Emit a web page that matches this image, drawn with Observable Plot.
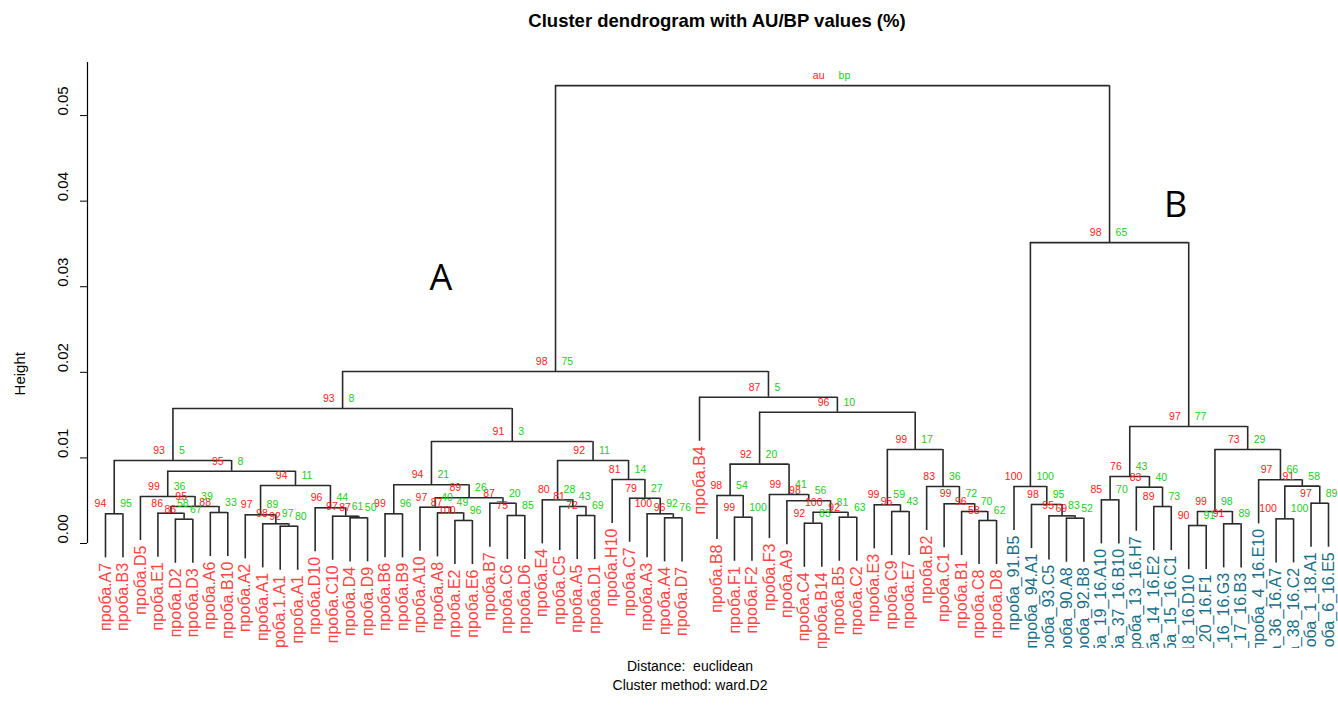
<!DOCTYPE html>
<html><head><meta charset="utf-8">
<script src="https://cdn.jsdelivr.net/npm/d3@7"></script>
<script src="https://cdn.jsdelivr.net/npm/@observablehq/plot@0.6"></script>
<style>
body{margin:0;background:#fff;font-family:"Liberation Sans",Arial,sans-serif;}
#wrap{position:relative;width:1338px;height:722px;overflow:hidden;background:#fff;}
#title{position:absolute;top:10px;left:417px;width:600px;text-align:center;font-weight:bold;font-size:18.5px;color:#000;}
#chart{position:absolute;top:40px;left:0;}
#chart svg{overflow:hidden;}
.cap{position:absolute;left:490px;width:400px;text-align:center;font-size:14px;color:#000;}
</style></head><body>
<div id="wrap">
<div id="title">Cluster dendrogram with AU/BP values (%)</div>
<div id="chart"></div>
<div class="cap" style="top:658px">Distance:&nbsp; euclidean</div>
<div class="cap" style="top:677px">Cluster method: ward.D2</div>
</div>
<script>
// leaves in plotted order
const leafLabels = [
"проба.A7","проба.B3","проба.D5","проба.E1","проба.D2","проба.D3","проба.A6","проба.B10","проба.A2","проба.A1",
"проба.1.A1","проба.A1","проба.D10","проба.C10","проба.D4","проба.D9","проба.B6","проба.B9","проба.A10","проба.A8",
"проба.E2","проба.E6","проба.B7","проба.C6","проба.D6","проба.E4","проба.C5","проба.A5","проба.D1","проба.H10",
"проба.C7","проба.A3","проба.A4","проба.D7","проба.B4","проба.B8","проба.F1","проба.F2","проба.F3","проба.A9",
"проба.C4","проба.B14","проба.B5","проба.C2","проба.E3","проба.C9","проба.E7","проба.B2","проба.C1","проба.B1",
"проба.C8","проба.D8","проба_91.B5","проба_94.A1","проба_93.C5","проба_90.A8","проба_92.B8","проба_19_16.A10","проба_37_16.B10","проба_13_16.H7",
"проба_14_16.E2","проба_15_16.C1","проба_18_16.D10","проба_20_16.F1","проба_16_16.G3","проба_17_16.B3","проба_4_16.E10","проба_36_16.A7","проба_38_16.C2","проба_1_18.A1",
"проба_6_16.E5"];
const leafGroup = leafLabels.map(d => d.startsWith("проба_") ? "B" : "A");

// hclust-style merge table: negative = leaf (1-based), positive = earlier merge row (1-based)
const mergeLeft  = [-1,-5,-4,-7,3,-3,-11,-10,-9,-15,-14,-13,9,6,1,-17,-21,-20,-19,-24,-23,19,16,-28,-27,-26,-33,-32,-31,-30,26,23,15,-37,-36,-41,-43,36,-40,-39,35,-46,-45,-51,-50,-49,-48,43,41,-35,33,-56,-55,-54,-53,-58,-61,-60,56,-63,-65,60,-68,-70,63,-67,62,59,55,51];
const mergeRight = [-2,-6,2,-8,4,5,-12,7,8,-16,10,11,12,13,14,-18,-22,17,18,-25,20,21,22,-29,24,25,-34,27,28,29,30,31,32,-38,34,-42,-44,37,38,39,40,-47,42,-52,44,45,46,47,48,49,50,-57,52,53,54,-59,-62,57,58,-64,-66,61,-69,-71,64,65,66,67,68,69];
const mergeHeight = [0.00347,0.00284,0.00354,0.00362,0.00432,0.00549,0.00202,0.0023,0.00335,0.003,
0.00319,0.00417,0.00678,0.00845,0.0097,0.00347,0.00269,0.00358,0.00424,0.00327,
0.00471,0.00534,0.00686,0.00327,0.00432,0.0051,0.003,0.00347,0.00529,0.00748,
0.0097,0.01192,0.01577,0.00307,0.00561,0.00237,0.00307,0.00366,0.005,0.00572,
0.00927,0.00374,0.00452,0.00269,0.00374,0.00464,0.00666,0.01098,0.01534,0.01709,
0.0201,0.00296,0.00323,0.00456,0.00666,0.0051,0.00432,0.00658,0.00783,0.0021,
0.0023,0.00374,0.00288,0.00471,0.0067,0.00744,0.01098,0.01367,0.03516,0.0535];
const auValues = [94,86,86,88,95,99,92,98,97,87,97,96,94,95,93,99,100,87,97,75,87,89,94,72,81,80,96,100,79,81,92,91,93,99,98,92,92,100,98,99,92,95,99,58,96,99,83,99,96,87,98,69,95,98,100,85,89,83,76,90,91,99,100,97,91,97,73,97,98,"au"];
const bpValues = [95,67,58,33,39,36,80,97,89,50,61,44,11,8,5,96,96,49,40,85,20,26,21,69,43,28,76,92,27,14,11,3,8,100,54,83,63,81,56,41,20,43,59,62,70,72,36,17,10,5,75,52,83,95,100,70,73,40,43,91,89,98,100,89,58,66,29,77,65,"bp"];

const yTicks = [0, 0.01, 0.02, 0.03, 0.04, 0.05];
const yTop = 0.0562;
const axisTitle = [{text: "Height", h: 0.0173}];
const annotations = [{text: "A", x: 19.2, h: 0.031}, {text: "B", x: 61.25, h: 0.0395}];

// layout of the tree
const hang = 0.1 * (d3.max(mergeHeight) - d3.min(mergeHeight));
const nodeX = [];
const cx = r => r < 0 ? (-r - 1) : nodeX[r - 1];
mergeLeft.forEach((l, k) => { nodeX[k] = (cx(l) + cx(mergeRight[k])) / 2; });
const hsegs = [], vsegs = [], nodes = [];
const leafEnd = new Array(leafLabels.length);
mergeLeft.forEach((l, k) => {
  const r = mergeRight[k], h = mergeHeight[k];
  hsegs.push({x1: cx(l), x2: cx(r), h});
  for (const c of [l, r]) {
    let ch;
    if (c < 0) { ch = h - hang; leafEnd[-c - 1] = ch; } else ch = mergeHeight[c - 1];
    vsegs.push({x: cx(c), y1: h, y2: ch});
  }
  nodes.push({x: nodeX[k], h, au: String(auValues[k]), bp: String(bpValues[k])});
});
const leaves = leafLabels.map((t, i) => ({i, t, g: leafGroup[i], y: leafEnd[i]}));

const lineColor = "#2a2a2a";
const chart = Plot.plot({
  width: 1338, height: 608,
  marginLeft: 87, marginRight: 10, marginTop: 22, marginBottom: 105,
  style: {fontFamily: "'Liberation Sans', Arial, sans-serif", background: "#fff", color: "#000"},
  x: {domain: [-1.03, 70], axis: null},
  y: {domain: [0, yTop], axis: null},
  color: {domain: ["A", "B"], range: ["#ff4545", "#1a6f88"]},
  marks: [
    Plot.axisY({ticks: yTicks, tickSize: 7, tickFormat: () => "", label: null, stroke: "#000"}),
    Plot.ruleX([-1.03], {y1: 0, y2: yTop, stroke: "#000", strokeWidth: 1.2}),
    Plot.text(yTicks, {y: d => d, text: d => d3.format(".2f")(d), frameAnchor: "left", dx: -24, rotate: -90, fontSize: 15, fill: "#000"}),
    Plot.text(axisTitle, {y: "h", text: "text", frameAnchor: "left", dx: -67, rotate: -90, fontSize: 15, fill: "#000"}),
    Plot.ruleY(hsegs, {x1: "x1", x2: "x2", y: "h", stroke: lineColor, strokeWidth: 1.6}),
    Plot.ruleX(vsegs, {x: "x", y1: "y1", y2: "y2", stroke: lineColor, strokeWidth: 1.6}),
    Plot.text(leaves, {x: "i", y: "y", text: "t", fill: "g", rotate: -90, textAnchor: "end", dy: 5, fontSize: 16}),
    Plot.text(nodes, {x: "x", y: "h", text: "au", fill: "#ff1a1a", textAnchor: "end", dx: -8, dy: -10, fontSize: 10.5}),
    Plot.text(nodes, {x: "x", y: "h", text: "bp", fill: "#1ccc1c", textAnchor: "start", dx: 6, dy: -10, fontSize: 10.5}),
    Plot.text(annotations, {x: "x", y: "h", text: "text", fontSize: 36, fill: "#000", fontFamily: "'Open Sans', 'Liberation Sans', sans-serif"})
  ]
});
document.getElementById("chart").appendChild(chart);
</script>
</body></html>
